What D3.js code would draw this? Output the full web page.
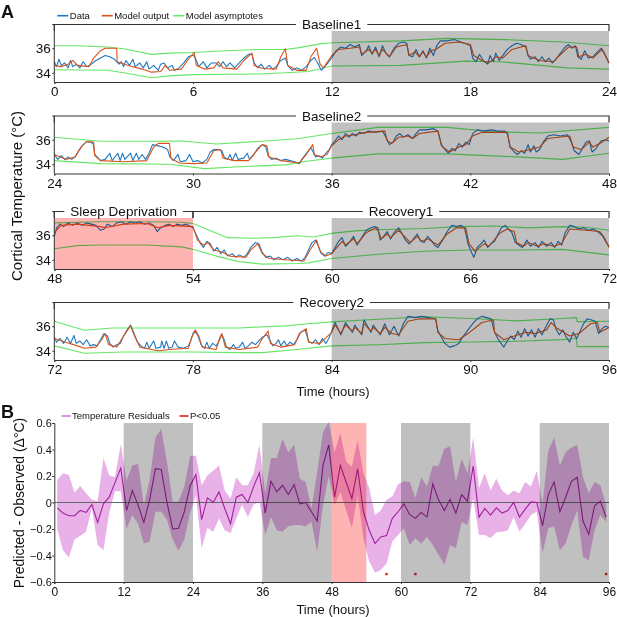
<!DOCTYPE html>
<html>
<head>
<meta charset="utf-8">
<script src="https://cdn.jsdelivr.net/npm/d3@7"></script>
<style>
  body { margin: 0; background: #fff; }
  svg { display: block; background: #fff; }
  text { font-family: Arial, "Liberation Sans", sans-serif; fill: #111; }
</style>
</head>
<body>
<div id="chart"></div>
<script>
// ---- panel A: cortical temperature, [hour, degC]
const dataTemp = [
  [0,34.9],[0.1,34.5],[0.2,35.1],[0.3,34.6],[0.45,34.8],[0.6,34.4],[0.7,35.0],[0.8,34.5],[0.95,34.7],[1.1,34.4],[1.25,34.9],[1.4,34.5],[1.6,34.7],[1.8,35.0],[2.0,35.2],[2.2,35.4],[2.4,35.3],[2.6,35.1],[2.8,34.7],[2.9,34.9],[3.0,34.5],[3.1,35.0],[3.25,34.6],[3.4,35.1],[3.5,34.5],[3.7,34.8],[3.85,34.4],[4.0,34.9],[4.1,34.3],[4.3,34.6],[4.5,34.2],[4.6,34.7],[4.75,34.8],[4.9,34.4],[5.1,34.6],[5.2,34.2],[5.4,34.4],[5.6,34.8],[5.8,35.3],[6.0,35.45],[6.1,35.2],[6.25,34.5],[6.45,34.9],[6.6,34.4],[6.8,34.8],[7.0,34.8],[7.15,34.5],[7.3,34.9],[7.45,34.5],[7.6,34.8],[7.8,34.4],[8.0,34.8],[8.2,35.2],[8.4,35.5],[8.55,35.5],[8.65,34.8],[8.8,34.4],[8.95,34.7],[9.1,34.3],[9.3,34.6],[9.45,34.3],[9.6,34.5],[9.8,35.0],[10.0,35.2],[10.1,34.6],[10.3,34.2],[10.5,34.4],[10.7,34.2],[10.9,34.5],[11.1,35.0],[11.25,35.25],[11.4,34.8],[11.55,34.2],[11.8,34.7],[12.0,35.2],
  [12.2,35.8],[12.4,36.1],[12.6,36.0],[12.8,36.3],[13.0,36.1],[13.2,36.3],[13.3,35.4],[13.5,35.8],[13.6,36.2],[13.75,35.5],[13.9,36.1],[14.05,35.3],[14.2,36.2],[14.35,35.6],[14.5,35.3],[14.7,36.0],[14.9,36.4],[15.1,36.5],[15.25,36.4],[15.35,35.4],[15.5,35.3],[15.65,35.9],[15.8,35.3],[15.95,35.8],[16.1,35.2],[16.25,36.0],[16.4,35.4],[16.55,36.2],[16.7,36.6],[17.0,36.6],[17.3,36.7],[17.6,36.5],[17.9,36.3],[18.0,36.2],[18.1,35.2],[18.25,34.9],[18.4,35.5],[18.55,35.0],[18.75,34.7],[18.85,35.4],[19.0,34.9],[19.1,35.6],[19.25,35.0],[19.4,35.4],[19.6,35.9],[19.8,36.2],[20.0,36.4],[20.2,36.3],[20.4,36.1],[20.5,35.4],[20.6,35.1],[20.8,35.3],[20.95,34.9],[21.1,35.3],[21.25,34.9],[21.4,35.2],[21.55,34.8],[21.7,35.1],[21.9,35.6],[22.1,36.1],[22.25,36.3],[22.4,36.0],[22.55,36.2],[22.65,35.3],[22.8,35.1],[22.95,35.8],[23.1,35.2],[23.3,35.3],[23.5,35.7],[23.67,36.0],[23.8,35.6],[24.0,34.8],
  [24.15,34.4],[24.3,34.7],[24.45,34.4],[24.6,34.6],[24.75,34.4],[24.9,34.6],[25.05,35.1],[25.2,35.5],[25.4,35.85],[25.55,35.8],[25.68,35.7],[25.75,34.8],[25.9,34.5],[26.0,34.3],[26.2,34.4],[26.4,34.9],[26.5,34.3],[26.75,34.9],[26.85,34.3],[26.95,34.9],[27.05,34.4],[27.3,34.9],[27.4,34.3],[27.55,34.9],[27.65,34.4],[27.8,34.8],[27.95,34.4],[28.1,34.9],[28.25,35.6],[28.5,35.5],[28.7,35.4],[28.9,35.2],[29.0,34.6],[29.15,34.3],[29.35,34.8],[29.45,34.2],[29.7,34.3],[29.85,34.8],[30.0,34.2],[30.2,34.3],[30.4,34.1],[30.6,34.4],[30.75,35.0],[30.9,35.2],[31.1,35.2],[31.25,35.1],[31.35,34.6],[31.5,34.4],[31.6,34.8],[31.7,34.3],[31.85,34.9],[31.95,34.4],[32.2,34.5],[32.35,34.9],[32.45,34.4],[32.6,34.7],[32.8,35.3],[33.0,35.6],[33.15,35.4],[33.25,34.7],[33.4,34.4],[33.6,34.5],[33.8,34.3],[34.0,34.4],[34.2,34.3],[34.4,34.2],[34.6,34.05],[34.75,34.5],[34.95,35.0],[35.1,35.35],[35.2,35.0],[35.3,34.6],[35.45,34.7],[35.6,34.5],[35.75,34.9],[35.9,35.2],[36.0,35.6],
  [36.15,35.9],[36.3,36.3],[36.45,36.0],[36.6,36.5],[36.75,36.2],[36.9,36.5],[37.05,36.3],[37.2,36.6],[37.4,36.5],[37.6,36.7],[37.9,36.6],[38.2,36.7],[38.35,36.2],[38.5,35.6],[38.65,35.8],[38.8,36.3],[38.95,36.5],[39.1,36.2],[39.3,36.4],[39.5,36.1],[39.65,36.5],[39.8,36.8],[40.1,36.8],[40.4,36.9],[40.6,36.7],[40.75,35.6],[40.9,35.2],[41.05,34.9],[41.2,35.3],[41.35,35.1],[41.5,35.7],[41.65,35.4],[41.8,35.8],[41.95,35.6],[42.1,36.5],[42.3,36.8],[42.6,36.7],[42.9,36.8],[43.2,36.7],[43.5,36.7],[43.62,36.4],[43.72,35.4],[43.9,35.0],[44.05,34.8],[44.2,35.1],[44.35,34.9],[44.5,35.6],[44.6,35.0],[44.75,35.5],[44.85,35.0],[45.0,35.2],[45.15,35.8],[45.35,36.3],[45.6,36.4],[45.9,36.3],[46.2,36.4],[46.35,35.9],[46.5,35.1],[46.7,34.8],[46.85,35.3],[47.0,35.8],[47.15,35.9],[47.27,35.0],[47.45,35.3],[47.65,35.9],[47.85,36.0],[48.0,35.9],
  [48.1,36.6],[48.25,36.9],[48.4,36.7],[48.6,37.0],[48.8,36.8],[49.0,37.0],[49.2,36.8],[49.4,37.0],[49.6,36.9],[49.8,36.8],[50.0,36.4],[50.15,36.5],[50.3,36.9],[50.5,36.7],[50.7,37.0],[50.9,37.1],[51.1,36.9],[51.3,37.1],[51.5,37.0],[51.7,37.1],[51.9,36.9],[52.1,37.0],[52.3,36.8],[52.45,36.3],[52.6,36.6],[52.8,36.8],[52.95,36.9],[53.15,36.7],[53.3,36.9],[53.5,36.8],[53.7,36.9],[53.9,36.7],[54.0,36.6],[54.15,36.0],[54.3,35.4],[54.45,35.0],[54.6,35.5],[54.75,35.3],[54.9,34.7],[55.05,35.0],[55.2,34.5],[55.35,34.8],[55.5,34.3],[55.7,34.5],[55.85,34.2],[56.0,34.4],[56.2,34.2],[56.35,34.5],[56.5,35.0],[56.7,35.4],[56.85,35.3],[57.0,34.6],[57.15,34.2],[57.35,34.3],[57.5,34.0],[57.7,34.2],[57.9,34.0],[58.1,34.2],[58.3,33.9],[58.5,34.1],[58.7,33.9],[58.85,34.2],[59.0,34.8],[59.15,35.4],[59.3,35.6],[59.45,35.0],[59.55,34.5],[59.7,34.3],[59.85,34.6],[60.0,34.5],
  [60.15,35.0],[60.3,35.5],[60.45,35.8],[60.6,35.1],[60.8,35.5],[60.95,35.9],[61.1,35.2],[61.3,35.8],[61.5,36.4],[61.7,36.6],[61.85,36.7],[62.0,36.6],[62.1,35.6],[62.25,35.9],[62.4,36.3],[62.55,35.7],[62.7,36.2],[62.9,36.6],[63.05,36.1],[63.2,35.6],[63.35,35.3],[63.5,35.6],[63.7,36.1],[63.85,35.5],[64.0,35.4],[64.15,35.9],[64.3,35.6],[64.45,35.2],[64.6,35.0],[64.8,35.6],[65.0,36.3],[65.2,36.8],[65.4,36.7],[65.6,36.8],[65.75,36.6],[65.9,35.3],[66.05,34.6],[66.15,34.2],[66.3,35.0],[66.45,35.3],[66.6,35.6],[66.75,35.0],[66.9,35.3],[67.05,35.5],[67.2,36.1],[67.35,36.6],[67.5,36.8],[67.65,36.5],[67.8,36.2],[67.95,35.4],[68.1,35.2],[68.25,35.0],[68.45,35.6],[68.6,35.1],[68.8,35.4],[68.95,35.0],[69.1,35.5],[69.3,35.1],[69.5,35.4],[69.65,35.0],[69.8,35.5],[69.95,35.2],[70.1,36.2],[70.3,36.8],[70.5,36.7],[70.7,36.5],[70.9,36.6],[71.1,36.4],[71.3,36.5],[71.5,36.3],[71.7,36.0],[71.85,35.5],[72.0,35.1],
  [72.1,34.7],[72.25,35.0],[72.4,34.6],[72.55,35.1],[72.7,34.6],[72.85,35.25],[72.95,34.6],[73.1,34.8],[73.25,34.5],[73.4,34.9],[73.55,34.4],[73.7,34.5],[73.85,34.4],[74.0,34.9],[74.15,35.4],[74.3,35.2],[74.4,34.6],[74.55,34.3],[74.7,34.5],[74.85,34.6],[75.0,35.2],[75.15,35.7],[75.3,36.1],[75.45,35.4],[75.6,34.7],[75.75,34.4],[75.9,34.2],[76.0,34.7],[76.1,34.2],[76.3,34.8],[76.4,34.2],[76.6,34.3],[76.65,34.8],[76.75,34.2],[76.85,34.8],[76.95,34.2],[77.1,34.3],[77.2,34.8],[77.35,34.3],[77.6,34.2],[77.8,34.4],[77.9,34.8],[78.0,35.4],[78.07,35.6],[78.2,35.3],[78.35,34.5],[78.5,34.2],[78.6,34.7],[78.7,34.2],[78.85,34.6],[79.0,34.4],[79.1,34.7],[79.25,35.3],[79.35,34.9],[79.45,34.3],[79.6,34.1],[79.75,34.5],[79.85,34.2],[80.0,34.3],[80.15,34.7],[80.25,34.2],[80.4,34.4],[80.55,34.7],[80.7,34.5],[80.85,34.8],[81.0,35.1],[81.2,35.3],[81.35,34.8],[81.45,34.4],[81.6,34.6],[81.7,34.9],[81.8,34.4],[81.95,34.8],[82.05,34.4],[82.2,34.7],[82.35,34.5],[82.5,34.9],[82.65,35.5],[82.85,35.7],[83.0,34.8],[83.15,34.6],[83.3,34.9],[83.45,34.5],[83.6,35.0],[83.75,34.6],[83.9,35.1],[84.0,35.6],
  [84.15,36.3],[84.4,35.3],[84.6,36.3],[84.9,35.5],[85.0,36.1],[85.3,35.3],[85.4,36.5],[85.7,35.5],[85.8,36.1],[86.1,35.3],[86.3,36.2],[86.5,35.3],[86.7,36.0],[86.9,35.2],[87.1,36.2],[87.3,36.8],[87.6,36.7],[87.9,36.8],[88.2,36.7],[88.5,36.6],[88.6,35.6],[88.75,35.1],[88.9,34.6],[89.1,34.3],[89.3,34.4],[89.5,34.6],[89.7,35.2],[89.9,35.7],[90.1,36.2],[90.3,36.6],[90.5,36.8],[90.7,36.7],[90.9,36.6],[91.05,35.5],[91.25,34.8],[91.45,34.3],[91.6,34.8],[91.75,35.2],[91.9,34.9],[92.05,35.6],[92.2,35.1],[92.35,35.8],[92.5,35.2],[92.65,35.7],[92.8,35.1],[92.95,35.8],[93.1,35.3],[93.25,35.9],[93.45,36.6],[93.6,36.5],[93.7,35.8],[93.85,35.3],[94.0,35.7],[94.15,35.1],[94.3,34.7],[94.45,35.5],[94.6,35.0],[94.75,35.6],[94.9,36.2],[95.05,36.6],[95.25,36.5],[95.4,36.4],[95.55,35.4],[95.7,35.8],[95.85,36.0],[96.0,35.9]
];

const modelTemp = [
  [0,34.6],[0.3,34.5],[0.6,34.7],[0.8,35.0],[1.0,34.6],[1.5,34.5],[1.7,35.2],[2.0,35.8],[2.2,36.0],[2.7,36.0],[2.72,34.9],[3.2,34.6],[3.8,34.3],[4.2,34.05],[4.6,34.1],[4.8,34.6],[5.0,34.2],[5.5,34.3],[5.8,35.1],[6.05,35.65],[6.15,34.6],[6.5,34.3],[6.9,34.4],[7.1,34.9],[7.3,34.4],[7.9,34.3],[8.2,35.0],[8.55,35.6],[8.65,34.6],[9.0,34.35],[9.6,34.3],[9.8,35.3],[10.0,35.95],[10.1,34.6],[10.5,34.2],[10.9,34.2],[11.1,35.3],[11.35,36.0],[11.5,34.7],[11.65,34.4],[12.0,35.4],
  [12.3,35.9],[12.8,36.0],[13.2,36.1],[13.3,35.5],[13.6,35.9],[13.75,35.6],[13.9,35.9],[14.05,35.4],[14.2,35.9],[14.5,35.3],[14.8,36.1],[15.25,36.3],[15.35,35.4],[15.6,35.7],[15.8,35.3],[15.95,35.7],[16.1,35.3],[16.3,35.8],[16.5,35.9],[16.9,36.4],[17.5,36.5],[18.0,36.3],[18.15,35.4],[18.5,35.0],[18.8,34.8],[19.1,35.3],[19.4,35.2],[19.8,35.9],[20.4,36.2],[20.5,35.4],[21.0,35.0],[21.6,34.9],[21.8,35.3],[22.25,36.1],[22.6,36.1],[22.7,35.3],[23.0,35.5],[23.3,35.2],[23.7,35.9],[24.0,34.8],
  [24.5,34.4],[24.9,34.6],[25.2,35.5],[25.4,35.85],[25.7,35.8],[25.75,34.7],[26.0,34.3],[27.0,34.2],[28.0,34.3],[28.3,35.4],[28.5,35.7],[28.98,35.7],[29.05,34.5],[29.4,34.1],[30.0,34.05],[30.6,34.1],[30.9,35.1],[31.2,35.2],[31.3,34.5],[31.8,34.3],[32.4,34.3],[32.8,35.2],[33.0,35.6],[33.2,35.5],[33.28,34.6],[33.8,34.3],[34.6,34.1],[34.9,34.8],[35.18,35.6],[35.25,34.8],[35.5,34.6],[35.8,34.8],[36.0,35.5],
  [36.3,36.0],[36.6,36.3],[37.0,36.4],[37.5,36.6],[38.3,36.7],[38.4,35.9],[38.6,35.7],[38.9,36.2],[39.3,36.3],[39.5,36.1],[39.8,36.5],[40.6,36.7],[40.75,35.5],[41.1,35.0],[41.5,35.4],[41.8,35.6],[42.1,36.3],[42.5,36.6],[43.6,36.6],[43.72,35.4],[44.1,35.0],[44.6,35.2],[45.0,35.4],[45.35,36.1],[46.3,36.3],[46.45,35.4],[46.8,35.2],[47.15,35.8],[47.3,35.4],[47.7,35.8],[48.0,36.2],
  [48.3,36.8],[49.0,36.9],[50.0,36.7],[50.2,36.6],[51.0,36.9],[52.0,36.95],[52.5,36.6],[53.0,36.8],[54.0,36.7],[54.2,35.6],[54.45,35.2],[54.65,35.4],[54.9,34.8],[55.3,34.6],[55.6,34.3],[56.3,34.2],[56.5,34.8],[56.8,35.3],[57.0,34.5],[57.3,34.1],[58.0,34.0],[58.8,33.9],[59.1,34.9],[59.35,35.6],[59.5,34.7],[59.75,34.3],[60.0,34.5],
  [60.45,35.5],[60.6,35.2],[60.95,35.7],[61.1,35.3],[61.5,36.2],[61.9,36.6],[62.0,36.4],[62.15,35.7],[62.4,36.1],[62.55,35.8],[62.9,36.4],[63.2,35.8],[63.4,35.4],[63.7,35.9],[63.9,35.5],[64.15,35.7],[64.6,35.2],[65.0,36.1],[65.4,36.6],[65.8,36.6],[65.95,35.3],[66.2,34.7],[66.6,35.3],[66.8,35.1],[67.3,36.2],[67.6,36.5],[67.9,36.3],[68.0,35.4],[68.3,35.1],[68.5,35.4],[68.9,35.1],[69.2,35.3],[69.6,35.1],[69.95,35.3],[70.3,36.5],[71.0,36.4],[71.6,36.3],[71.8,35.8],[72.0,35.0],
  [72.5,34.7],[73.0,34.4],[73.3,34.2],[73.8,34.3],[74.05,34.9],[74.2,35.4],[74.35,34.5],[74.7,34.3],[75.0,35.2],[75.3,36.05],[75.45,35.3],[75.7,34.3],[76.5,34.0],[77.0,34.1],[77.8,34.2],[77.95,35.1],[78.1,35.7],[78.25,35.2],[78.4,34.3],[79.0,34.1],[79.15,35.0],[79.25,35.4],[79.4,34.3],[80.0,34.1],[80.8,34.3],[81.0,35.0],[81.25,35.6],[81.35,34.6],[81.8,34.3],[82.4,34.5],[82.6,35.4],[82.9,35.8],[83.0,34.7],[83.5,34.6],[84.0,35.5],
  [84.15,36.1],[84.4,35.4],[84.6,36.1],[84.9,35.6],[85.0,35.9],[85.3,35.4],[85.4,36.2],[85.7,35.6],[85.8,35.9],[86.1,35.4],[86.3,35.9],[86.6,35.4],[86.9,35.3],[87.3,36.4],[87.8,36.6],[88.5,36.6],[88.6,35.5],[88.9,35.0],[89.5,34.9],[89.9,35.4],[90.5,36.3],[91.0,36.5],[91.05,35.5],[91.45,34.9],[91.9,35.2],[92.4,35.5],[92.8,35.4],[93.3,35.7],[93.5,36.3],[93.7,35.9],[94.3,35.2],[94.7,35.4],[95.2,36.2],[95.5,36.3],[95.6,35.5],[96.0,35.9]
];

const asymUpper = [
  [0,36.2],[1,36.2],[2.3,36.1],[3,35.95],[4.2,35.5],[5,35.6],[6,35.65],[7,35.75],[8.8,35.9],[10,35.9],[10.6,36.05],[11.5,36.35],[12,36.45],[15,36.6],[17,36.8],[19.5,36.7],[22,36.5],[24,36.2],
  [26,35.87],[28,35.88],[29.5,35.9],[31,35.65],[33,35.87],[34.5,36.08],[36,36.5],[38,37.0],[41,37.0],[43,36.65],[45,36.55],[48,37.0],
  [50,37.1],[52,37.1],[53.5,37.05],[54,36.95],[54.7,36.4],[55.5,35.8],[56.5,35.75],[57.5,35.8],[58.5,35.95],[59.2,35.85],[60,36.15],[61,36.35],[62,36.45],[64,36.55],[65.5,36.7],[67,36.75],[68.5,36.6],[70,36.7],[71,36.65],[72,36.4],
  [73.3,35.67],[74.5,35.86],[76,35.86],[78,35.86],[80,35.86],[82,36.03],[83,36.2],[84,36.35],[86,36.57],[88,36.77],[90,36.63],[92,36.43],[94,36.63],[94.6,36.7],[94.62,36.37],[96,36.4]
];
const asymLower = [
  [0,34.25],[2.3,34.2],[3,34.0],[4.2,33.6],[5,33.75],[6,33.85],[8.8,33.9],[10,34.0],[11,34.1],[12,34.55],[15,34.6],[17.8,34.95],[19.3,34.9],[22.2,34.4],[24,34.3],
  [26,34.05],[29,34.0],[30.5,33.65],[32,33.8],[34,33.95],[35,34.27],[36,34.5],[38,34.85],[41,34.85],[44,34.6],[46,34.4],[48,34.9],
  [49,35.15],[50,35.2],[52,35.2],[53.5,35.05],[54,34.85],[55,34.3],[56,33.85],[57,33.65],[58.5,33.7],[59,33.75],[60,34.1],[62,34.45],[64,34.7],[66,34.8],[68,34.8],[70,34.85],[72,34.4],
  [73.3,33.8],[75,33.9],[78,33.9],[80,33.85],[81,33.85],[82.5,34.1],[84,34.4],[86,34.49],[88,34.66],[90,34.71],[92,34.77],[94,34.91],[94.6,35.0],[94.62,34.34],[96,34.34]
];

const rowStarts = [0, 24, 48, 72];
const tempTicks = [34, 36];
const periodNames = ["Baseline1", "Baseline2", "Sleep Deprivation", "Recovery1", "Recovery2"];
const periodSpans = [[0, 24], [24, 48], [48, 54], [54, 72], [72, 96]];
const darkPeriods = [[12, 24], [36, 48], [60, 72], [84, 96]];
const sdPeriod = [48, 54];

// ---- panel B: residuals per hour bin
const residHours = [0.5,1.5,2.5,3.5,4.5,5.5,6.5,7.5,8.5,9.5,10.5,11.5,12.5,13.5,14.5,15.5,16.5,17.5,18.5,19.5,20.5,21.5,22.5,23.5,
  24.5,25.5,26.5,27.5,28.5,29.5,30.5,31.5,32.5,33.5,34.5,35.5,36.5,37.5,38.5,39.5,40.5,41.5,42.5,43.5,44.5,45.5,46.5,47.5,
  48.5,49.5,50.5,51.5,52.5,53.5,54.5,55.5,56.5,57.5,58.5,59.5,60.5,61.5,62.5,63.5,64.5,65.5,66.5,67.5,68.5,69.5,70.5,71.5,
  72.5,73.5,74.5,75.5,76.5,77.5,78.5,79.5,80.5,81.5,82.5,83.5,84.5,85.5,86.5,87.5,88.5,89.5,90.5,91.5,92.5,93.5,94.5,95.5];
const residMean = [-0.04,-0.08,-0.10,-0.10,-0.06,-0.075,-0.015,-0.15,-0.01,0.04,0.15,0.26,-0.06,0.09,-0.02,-0.15,0.02,0.255,0.25,0.0,-0.20,-0.195,-0.07,0.125,
  0.21,-0.13,0.035,0.0,0.08,-0.045,-0.16,0.04,0.06,0.0,0.12,0.225,-0.08,0.16,0.08,0.13,0.06,0.135,-0.01,0.0,-0.07,-0.14,0.28,0.435,
  0.04,0.28,0.155,0.03,0.255,-0.07,-0.21,-0.31,-0.26,-0.25,-0.12,-0.07,-0.01,-0.09,-0.12,-0.075,-0.11,0.14,0.02,-0.06,0.025,-0.08,0.06,0.01,
  0.275,-0.11,-0.045,-0.095,-0.04,-0.08,-0.06,0.0,-0.11,-0.05,0.005,0.0,-0.175,0.06,0.155,-0.07,0.04,0.16,0.19,-0.14,-0.24,-0.025,0.01,-0.11];
const residUpper = [0.17,0.22,0.21,0.075,0.125,0.07,0.02,0.01,0.335,0.205,0.19,0.44,0.17,0.28,0.29,-0.02,0.17,0.49,0.555,0.305,0.005,0.005,0.12,0.35,
  0.355,0.13,0.205,0.24,0.28,0.09,0.03,0.19,0.13,0.13,0.22,0.435,0.07,0.335,0.335,0.48,0.38,0.435,0.18,0.155,-0.045,0.23,0.53,0.61,
  0.38,0.525,0.31,0.27,0.47,0.22,0.11,-0.095,-0.06,0.02,0.045,0.14,0.16,0.155,0.035,0.19,0.12,0.28,0.275,0.405,0.425,0.155,0.33,0.22,
  0.49,0.11,0.22,0.09,0.18,0.09,0.055,0.09,0.07,0.155,0.12,0.24,-0.01,0.39,0.49,0.28,0.38,0.415,0.435,0.19,0.07,0.155,0.13,-0.02];
const residLower = [-0.2,-0.36,-0.415,-0.28,-0.25,-0.22,-0.04,-0.32,-0.36,-0.08,0.085,0.085,-0.2,-0.095,-0.16,-0.31,-0.295,-0.07,-0.07,-0.13,-0.28,-0.365,-0.28,-0.08,
  0.055,-0.345,-0.19,-0.22,-0.12,-0.21,-0.23,-0.12,-0.015,-0.11,-0.015,0.0,-0.245,-0.11,-0.21,-0.22,-0.18,-0.17,-0.17,-0.18,-0.145,-0.37,-0.02,0.2,
  -0.02,0.08,-0.06,-0.19,0.055,-0.27,-0.445,-0.53,-0.51,-0.46,-0.295,-0.245,-0.195,-0.32,-0.27,-0.31,-0.26,-0.32,-0.395,-0.47,-0.32,-0.345,-0.145,-0.17,
  0.03,-0.245,-0.245,-0.27,-0.225,-0.22,-0.21,-0.11,-0.22,-0.16,-0.095,-0.07,-0.38,-0.195,-0.18,-0.36,-0.31,-0.17,-0.06,-0.41,-0.435,-0.21,-0.095,-0.145];
const sigHours = [57.5, 62.5, 95.5];
const sigLevel = -0.54;
const residTicks = [-0.6, -0.4, -0.2, 0, 0.2, 0.4, 0.6];
const hourTicksB = [0, 12, 24, 36, 48, 60, 72, 84, 96];

// ---- layout
const W = 617, H = 617;
const left = 54.3, right = 609;
const rowTops = [31, 122.5, 218, 309], rowH = 51;
const colors = { data: "#1f78c1", model: "#d95319", asym: "#66e766",
                 shade: "#c0c0c0", sd: "#ffb4b4", band: "#e8b2e9", resid: "#a2219e", sig: "#e0201c" };

const svg = d3.select("#chart").append("svg").attr("width", W).attr("height", H);

function shade(g, x, y0, y1, from, to, color) {
  g.append("rect")
    .attr("x", x(from)).attr("width", x(to) - x(from))
    .attr("y", y1).attr("height", y0 - y1)
    .attr("fill", color)
    .style("mix-blend-mode", "multiply");
}

// panel A rows
rowStarts.forEach(function(start, i) {
  const top = rowTops[i], bottom = top + rowH;
  const x = d3.scaleLinear().domain([start, start + 24]).range([left, right]);
  const y = d3.scaleLinear().domain([33.25, 37.4]).range([bottom, top]);
  const g = svg.append("g");
  const inRow = d => d[0] >= start && d[0] <= start + 24;
  const line = d3.line().x(d => x(d[0])).y(d => y(d[1]));

  [[asymUpper, colors.asym], [asymLower, colors.asym], [dataTemp, colors.data], [modelTemp, colors.model]]
    .forEach(function(s) {
      g.append("path").datum(s[0].filter(inRow))
        .attr("fill", "none").attr("stroke", s[1]).attr("stroke-width", 1.1)
        .attr("stroke-linejoin", "round").attr("d", line);
    });

  darkPeriods.concat([sdPeriod]).forEach(function(p, k) {
    if (p[0] >= start && p[1] <= start + 24)
      shade(g, x, bottom, top, p[0], p[1], k === darkPeriods.length ? colors.sd : colors.shade);
  });

  g.append("g").attr("transform", `translate(0,${bottom})`)
    .call(d3.axisBottom(x).tickValues(d3.range(start, start + 25, 6)).tickFormat(d3.format("d")).tickSize(2).tickPadding(2.5))
    .call(a => a.selectAll("text").style("font-size", "13.5px"))
    .call(a => a.selectAll("path,line").attr("stroke", "#333"));
  g.append("g").attr("transform", `translate(${left},0)`)
    .call(d3.axisLeft(y).tickValues(tempTicks).tickFormat(d3.format("d")).tickSize(2).tickPadding(1.5))
    .call(a => a.selectAll("text").style("font-size", "13.5px"))
    .call(a => a.select(".domain").attr("d", `M-2,${top - 6.5}H0V${bottom}`))
    .call(a => a.selectAll("path,line").attr("stroke", "#333"));

  // period brackets
  periodSpans.forEach(function(p, k) {
    if (p[0] < start || p[1] > start + 24) return;
    const by = top - 6.5, x1 = x(p[0]), x2 = x(p[1]), cx = (x1 + x2) / 2;
    const t = g.append("text").attr("x", cx).attr("y", by).attr("dy", "0.35em")
      .attr("text-anchor", "middle").style("font-size", "13.5px").text(periodNames[k]);
    const half = t.node().getComputedTextLength() / 2 + 6;
    g.append("path")
      .attr("d", `M${x1},${top}V${by}H${cx - half}M${cx + half},${by}H${x2}V${top}`)
      .attr("fill", "none").attr("stroke", "#333").attr("stroke-width", 1.2);
  });
});

svg.append("text").attr("x", 333).attr("y", 391.5).attr("dy", "0.35em").attr("text-anchor", "middle")
  .style("font-size", "13px").text("Time (hours)");
svg.append("text").attr("transform", "translate(17,196) rotate(-90)").attr("dy", "0.35em")
  .attr("text-anchor", "middle").style("font-size", "15px").text("Cortical Temperature (°C)");
svg.append("text").attr("x", 1).attr("y", 18).style("font-size", "18px").style("font-weight", "bold").text("A");

// legend A
[["Data", colors.data, 57.3], ["Model output", colors.model, 101.7], ["Model asymptotes", colors.asym, 173.3]]
  .forEach(function(l) {
    svg.append("line").attr("x1", l[2]).attr("x2", l[2] + 11).attr("y1", 15.7).attr("y2", 15.7)
      .attr("stroke", l[1]).attr("stroke-width", 1.6);
    svg.append("text").attr("x", l[2] + 12.5).attr("y", 15.7).attr("dy", "0.35em")
      .style("font-size", "9.5px").text(l[0]);
  });

// panel B
const xB = d3.scaleLinear().domain([0, 96]).range([left, right]);
const yB = d3.scaleLinear().domain([-0.6, 0.6]).range([582, 423]);
const gB = svg.append("g");
const resid = residHours.map((h, i) => ({ h: h, m: residMean[i], lo: residLower[i], hi: residUpper[i] }));

gB.append("path").datum(resid).attr("fill", colors.band)
  .attr("d", d3.area().x(d => xB(d.h)).y0(d => yB(d.lo)).y1(d => yB(d.hi)));
gB.append("line").attr("x1", left).attr("x2", right).attr("y1", yB(0)).attr("y2", yB(0))
  .attr("stroke", "#666").attr("stroke-width", 1);
gB.append("path").datum(resid).attr("fill", "none").attr("stroke", colors.resid).attr("stroke-width", 1.1)
  .attr("d", d3.line().x(d => xB(d.h)).y(d => yB(d.m)));
gB.selectAll("rect.sig").data(sigHours).join("rect").attr("class", "sig")
  .attr("x", d => xB(d) - 1.2).attr("y", yB(sigLevel) - 1.2).attr("width", 2.4).attr("height", 2.4)
  .attr("fill", colors.sig);

darkPeriods.forEach(p => shade(gB, xB, yB(-0.6), yB(0.6), p[0], p[1], colors.shade));
shade(gB, xB, yB(-0.6), yB(0.6), sdPeriod[0], sdPeriod[1], colors.sd);

gB.append("g").attr("transform", `translate(0,${yB(-0.6)})`)
  .call(d3.axisBottom(xB).tickValues(hourTicksB).tickFormat(d3.format("d")).tickSize(2).tickPadding(3))
  .call(a => a.selectAll("text").style("font-size", "12px"))
  .call(a => a.selectAll("path,line").attr("stroke", "#333"));
gB.append("g").attr("transform", `translate(${left},0)`)
  .call(d3.axisLeft(yB).tickValues(residTicks).tickFormat(d => d === 0 ? "0" : d3.format(".1f")(d)).tickSize(2).tickPadding(0.5))
  .call(a => a.selectAll("text").style("font-size", "11px"))
  .call(a => a.selectAll("path,line").attr("stroke", "#333"));

svg.append("text").attr("x", 333).attr("y", 609).attr("dy", "0.35em").attr("text-anchor", "middle")
  .style("font-size", "13px").text("Time (hours)");
svg.append("text").attr("transform", "translate(19,503) rotate(-90)").attr("dy", "0.35em")
  .attr("text-anchor", "middle").style("font-size", "14px").text("Predicted - Observed (Δ°C)");
svg.append("text").attr("x", 1).attr("y", 418).style("font-size", "18px").style("font-weight", "bold").text("B");

// legend B
[["Temperature Residuals", colors.resid, 61.5], ["P<0.05", colors.sig, 179.5]].forEach(function(l) {
  svg.append("line").attr("x1", l[2]).attr("x2", l[2] + 9).attr("y1", 416).attr("y2", 416)
    .attr("stroke", l[1] === colors.resid ? "#c77cd0" : l[1]).attr("stroke-width", 1.6);
  svg.append("text").attr("x", l[2] + 10.5).attr("y", 416).attr("dy", "0.35em")
    .style("font-size", "9.5px").text(l[0]);
});
</script>
</body>
</html>
